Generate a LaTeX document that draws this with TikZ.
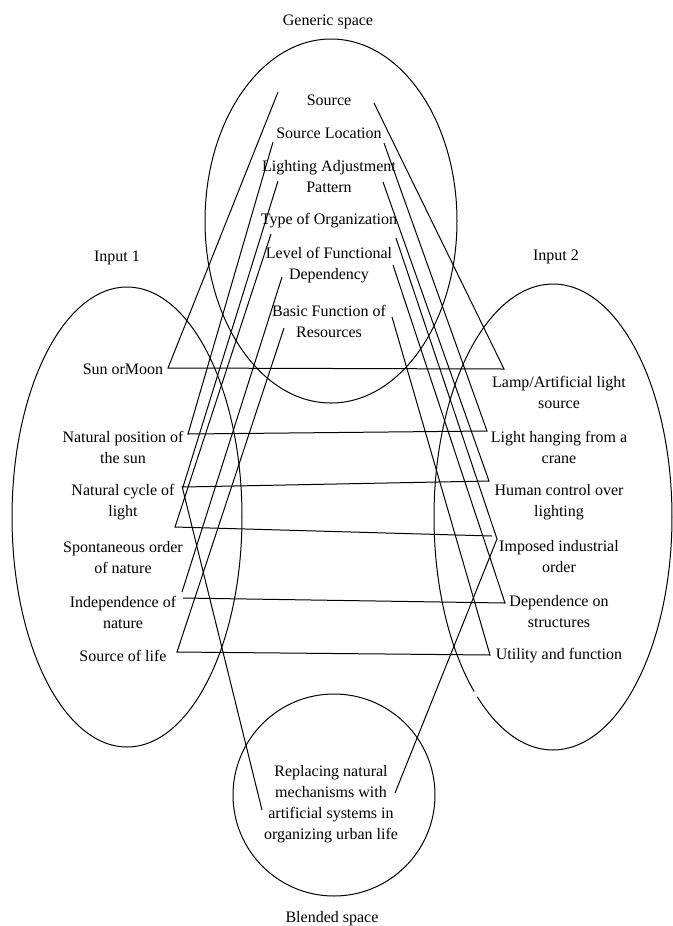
\documentclass[tikz,border=0pt]{standalone}
\usepackage{fontspec}
\setmainfont{Liberation Serif}
\usetikzlibrary{shapes.geometric}
\begin{document}
\begin{tikzpicture}[x=0.75pt,y=-0.75pt]
\tikzset{
  lbl/.style={font=\fontsize{12pt}{15.75pt}\selectfont, inner sep=0pt, align=center},
  ln/.style={line width=0.75pt, black},
  spc/.style={draw=black, line width=0.75pt, ellipse, inner sep=0pt}
}
\useasboundingbox (0,0) rectangle (673,926);
% spaces
\node[spc, minimum width=189pt, minimum height=273pt] (genE) at (331,221) {};
\node[spc, minimum width=172.5pt, minimum height=345pt] (in1E) at (127,517) {};
\coordinate (in2C) at (553,517);
\draw[ln] ([shift={(230.5:89.25pt and 174.75pt)}]in2C) arc[start angle=230.5, end angle=588.5, x radius=89.25pt, y radius=174.75pt];
\node[spc, minimum width=151.5pt, minimum height=151.5pt] (blE) at (334,795) {};
% titles
\node[lbl] (gen) at (328,22) {Generic space};
\node[lbl] (in1) at (117,258) {Input 1};
\node[lbl] (in2) at (556,257) {Input 2};
\node[lbl] (bl) at (332,919) {Blended space};
% generic
\node[lbl] (g1) at (329,100) {Source};
\node[lbl] (g2) at (329,133) {Source Location};
\node[lbl] (g3) at (329,177) {Lighting Adjustment\\Pattern};
\node[lbl] (g4) at (329,221) {Type of Organization};
\node[lbl] (g5) at (329,265.5) {Level of Functional\\Dependency};
\node[lbl] (g6) at (329,321) {Basic Function of\\Resources};
% input 1
\node[lbl] (a1) at (123,369) {Sun orMoon};
\node[lbl] (a2) at (123,447.5) {Natural position of\\the sun};
\node[lbl] (a3) at (123,502.5) {Natural cycle of\\light};
\node[lbl] (a4) at (123,557.5) {Spontaneous order\\of nature};
\node[lbl] (a5) at (123,612.5) {Independence of\\nature};
\node[lbl] (a6) at (123,656) {Source of life};
% input 2
\node[lbl] (b1) at (559,392.5) {Lamp/Artificial light\\source};
\node[lbl] (b2) at (559,447.5) {Light hanging from a\\crane};
\node[lbl] (b3) at (559,502.5) {Human control over\\lighting};
\node[lbl] (b4) at (559,556.5) {Imposed industrial\\order};
\node[lbl] (b5) at (559,611.5) {Dependence on\\structures};
\node[lbl] (b6) at (559,656) {Utility and function};
% blended
\node[lbl] (bt) at (331,804.5) {Replacing natural\\mechanisms with\\artificial systems in\\organizing urban life};
% connector end points
\coordinate (gL1) at (278,92);  \coordinate (gR1) at (374,103);
\coordinate (gL2) at (273,142); \coordinate (gR2) at (384,143);
\coordinate (gL3) at (278,181); \coordinate (gR3) at (383,182);
\coordinate (gL4) at (271,234); \coordinate (gR4) at (396,238);
\coordinate (gL5) at (282,277); \coordinate (gR5) at (393,265);
\coordinate (gL6) at (284,328); \coordinate (gR6) at (392,317);
\coordinate (aV1) at (168,368); \coordinate (bV1) at (504,369);
\coordinate (aV2) at (188,434); \coordinate (bV2) at (487,431);
\coordinate (aV3) at (183,487); \coordinate (bV3) at (489,481);
\coordinate (aV4) at (175,527); \coordinate (bH4) at (492,536); \coordinate (bV4) at (497,539);
\coordinate (aE5) at (182,592); \coordinate (aH5) at (183,598); \coordinate (bV5) at (505,603);
\coordinate (aV6) at (177,652); \coordinate (bV6) at (490,655);
\coordinate (aB3) at (182,486);
\coordinate (blL) at (262,810); \coordinate (blR) at (395,793);
% connectors
\draw[ln] (gL1) -- (aV1) -- (bV1) -- (gR1);
\draw[ln] (gL2) -- (aV2) -- (bV2) -- (gR2);
\draw[ln] (gL3) -- (aV3) -- (bV3) -- (gR3);
\draw[ln] (gL4) -- (aV4) -- (bH4);
\draw[ln] (gR4) -- (bV4) -- (blR);
\draw[ln] (gL5) -- (aE5);
\draw[ln] (aH5) -- (bV5) -- (gR5);
\draw[ln] (gL6) -- (aV6) -- (bV6) -- (gR6);
\draw[ln] (aB3) -- (blL);
\end{tikzpicture}
\end{document}
